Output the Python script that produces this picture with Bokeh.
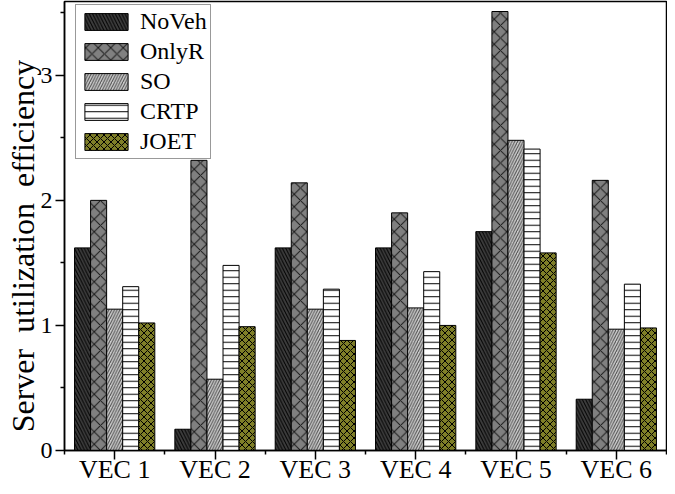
from bokeh.plotting import figure
from bokeh.models import ColumnDataSource, FixedTicker, Range1d
from bokeh.transform import dodge
from bokeh.embed import file_html
from bokeh.resources import INLINE

categories = ["VEC 1", "VEC 2", "VEC 3", "VEC 4", "VEC 5", "VEC 6"]
series = ["NoVeh", "OnlyR", "SO", "CRTP", "JOET"]
noveh = [1.62, 0.17, 1.62, 1.62, 1.75, 0.41]
onlyr = [2.00, 2.32, 2.14, 1.90, 3.51, 2.16]
so    = [1.13, 0.57, 1.13, 1.14, 2.48, 0.97]
crtp  = [1.31, 1.48, 1.29, 1.43, 2.41, 1.33]
joet  = [1.02, 0.99, 0.88, 1.00, 1.58, 0.98]
y_ticks = [0, 1, 2, 3]
y_minor = [0.5, 1.5, 2.5, 3.5]
y_title_words = ["Server", "utilization", "efficiency"]

FONT = "Liberation Serif"
QFONT = "'Liberation Serif', serif"
NB = "\u00a0"

idx = list(range(1, len(categories) + 1))
source = ColumnDataSource(dict(x=idx, NoVeh=noveh, OnlyR=onlyr, SO=so, CRTP=crtp, JOET=joet))

p = figure(width=667, height=486, output_backend="svg", toolbar_location=None,
           x_range=Range1d(0.5, 6.5), y_range=Range1d(0, 3.59),
           min_border_left=64, min_border_right=1, min_border_top=1, min_border_bottom=30)
p.background_fill_color = "white"
p.border_fill_color = "white"
p.grid.visible = False
p.outline_line_color = "black"
p.outline_line_width = 1.5

styles = [
    ("NoVeh", "#3d3d3d", "left_diagonal_line", 6.5, "black"),
    ("OnlyR", "#808080", "diagonal_cross", 12.5, "#1a1a1a"),
    ("SO", "#cccccc", "right_diagonal_line", 5.5, "#4a4a4a"),
    ("CRTP", "white", "horizontal_line", 6.5, "black"),
    ("JOET", "#7f7f28", "diagonal_cross", 7, "black"),
]
offsets = [-0.32, -0.16, 0.0, 0.16, 0.32]
for (name, fill, hp, hs, hc), off in zip(styles, offsets):
    p.vbar(x=dodge("x", off), top=name, width=0.16, source=source,
           fill_color=fill, line_color="black", line_width=1,
           hatch_pattern=hp, hatch_scale=hs, hatch_color=hc, hatch_weight=1,
           legend_label=name)

# axes
xa = p.xaxis[0]
xa.ticker = FixedTicker(ticks=idx, minor_ticks=[i + 0.5 for i in range(0, len(categories) + 1)])
xa.major_label_overrides = {i: c for i, c in zip(idx, categories)}
ya = p.yaxis[0]
ya.ticker = FixedTicker(ticks=y_ticks, minor_ticks=y_minor)
for ax in (xa, ya):
    ax.axis_line_color = "black"
    ax.axis_line_width = 1.5
    ax.major_tick_line_color = "black"
    ax.major_tick_line_width = 1.5
    ax.minor_tick_line_color = "black"
    ax.minor_tick_line_width = 1.5
    ax.major_tick_in = 0
    ax.major_tick_out = 9
    ax.minor_tick_in = 0
    ax.minor_tick_out = 4
    ax.major_label_text_font = FONT
    ax.major_label_text_color = "black"
xa.major_label_text_font_size = "26px"
ya.major_label_text_font_size = "24px"
xa.major_label_standoff = -5
ya.major_label_standoff = 3

# wide word gaps as in the original; trailing no-break spaces nudge it downwards
ya.axis_label = (NB + " ").join(y_title_words) + NB * 5
ya.axis_label_text_font = FONT
ya.axis_label_text_font_size = "32px"
ya.axis_label_text_font_style = "normal"
ya.axis_label_text_color = "black"
ya.axis_label_standoff = -3

p.legend.location = (11, 291)
p.legend.margin = 0
p.legend.padding = 3
p.legend.spacing = 3
p.legend.glyph_width = 54
p.legend.glyph_height = 21
p.legend.label_standoff = 7
p.legend.label_text_font = QFONT
p.legend.label_text_font_size = "24px"
p.legend.label_text_font_style = "normal"
p.legend.label_text_color = "black"
p.legend.border_line_color = "#333333"
p.legend.border_line_width = 1
p.legend.background_fill_alpha = 1.0

open("out.html", "w").write(file_html(p, INLINE))
